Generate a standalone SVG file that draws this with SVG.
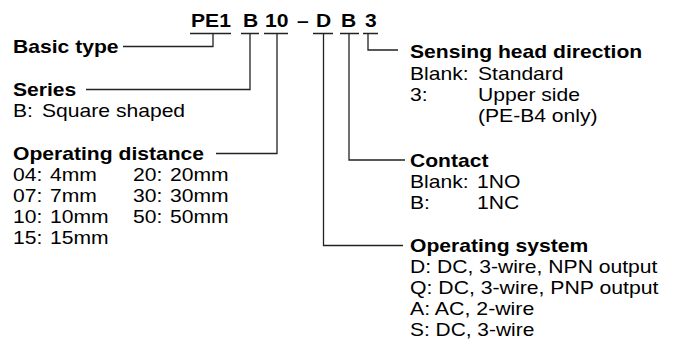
<svg xmlns="http://www.w3.org/2000/svg" width="677" height="343" viewBox="0 0 677 343">
<style>
text{font-family:"Liberation Sans",Arial,Helvetica,sans-serif;font-size:19px;fill:#000}
.b{font-weight:bold}
.ln{fill:none;stroke:#222;stroke-width:1.3}
</style>
<rect width="677" height="343" fill="#fff"/>
<g id="code">
<text class="b" x="191" y="27" textLength="39.9" lengthAdjust="spacingAndGlyphs">PE1</text>
<text class="b" x="243" y="27" textLength="15.2" lengthAdjust="spacingAndGlyphs">B</text>
<text class="b" x="265" y="27" textLength="23.5" lengthAdjust="spacingAndGlyphs">10</text>
<text class="b" x="297" y="27" textLength="11.7" lengthAdjust="spacingAndGlyphs">–</text>
<text class="b" x="316" y="27" textLength="15.2" lengthAdjust="spacingAndGlyphs">D</text>
<text class="b" x="341" y="27" textLength="15.2" lengthAdjust="spacingAndGlyphs">B</text>
<text class="b" x="365" y="27" textLength="11.7" lengthAdjust="spacingAndGlyphs">3</text>
</g>
<g id="basic-type">
<text class="b" x="13" y="53" textLength="105.5" lengthAdjust="spacingAndGlyphs">Basic type</text>
</g>
<g id="series">
<text class="b" x="13" y="96" textLength="63.3" lengthAdjust="spacingAndGlyphs">Series</text>
<text x="13" y="117" textLength="19.9" lengthAdjust="spacingAndGlyphs">B:</text>
<text x="42" y="117" textLength="143.1" lengthAdjust="spacingAndGlyphs">Square shaped</text>
</g>
<g id="operating-distance">
<text class="b" x="13" y="160" textLength="191.1" lengthAdjust="spacingAndGlyphs">Operating distance</text>
<text x="13" y="181" textLength="29.3" lengthAdjust="spacingAndGlyphs">04:</text>
<text x="50" y="181" textLength="46.9" lengthAdjust="spacingAndGlyphs">4mm</text>
<text x="13" y="202" textLength="29.3" lengthAdjust="spacingAndGlyphs">07:</text>
<text x="50" y="202" textLength="46.9" lengthAdjust="spacingAndGlyphs">7mm</text>
<text x="13" y="223" textLength="29.3" lengthAdjust="spacingAndGlyphs">10:</text>
<text x="50" y="223" textLength="58.6" lengthAdjust="spacingAndGlyphs">10mm</text>
<text x="13" y="244" textLength="29.3" lengthAdjust="spacingAndGlyphs">15:</text>
<text x="50" y="244" textLength="58.6" lengthAdjust="spacingAndGlyphs">15mm</text>
<text x="133" y="181" textLength="29.3" lengthAdjust="spacingAndGlyphs">20:</text>
<text x="170" y="181" textLength="58.6" lengthAdjust="spacingAndGlyphs">20mm</text>
<text x="133" y="202" textLength="29.3" lengthAdjust="spacingAndGlyphs">30:</text>
<text x="170" y="202" textLength="58.6" lengthAdjust="spacingAndGlyphs">30mm</text>
<text x="133" y="223" textLength="29.3" lengthAdjust="spacingAndGlyphs">50:</text>
<text x="170" y="223" textLength="58.6" lengthAdjust="spacingAndGlyphs">50mm</text>
</g>
<g id="sensing-head-direction">
<text class="b" x="410" y="58" textLength="232.2" lengthAdjust="spacingAndGlyphs">Sensing head direction</text>
<text x="410" y="79.5" textLength="58.6" lengthAdjust="spacingAndGlyphs">Blank:</text>
<text x="478" y="79.5" textLength="85.6" lengthAdjust="spacingAndGlyphs">Standard</text>
<text x="410" y="100.5" textLength="17.6" lengthAdjust="spacingAndGlyphs">3:</text>
<text x="478" y="100.5" textLength="102" lengthAdjust="spacingAndGlyphs">Upper side</text>
<text x="478" y="121.5" textLength="119.6" lengthAdjust="spacingAndGlyphs">(PE-B4 only)</text>
</g>
<g id="contact">
<text class="b" x="410" y="166.5" textLength="78.5" lengthAdjust="spacingAndGlyphs">Contact</text>
<text x="410" y="187.5" textLength="58.6" lengthAdjust="spacingAndGlyphs">Blank:</text>
<text x="477" y="187.5" textLength="43.4" lengthAdjust="spacingAndGlyphs">1NO</text>
<text x="410" y="208.5" textLength="19.9" lengthAdjust="spacingAndGlyphs">B:</text>
<text x="477" y="208.5" textLength="42.2" lengthAdjust="spacingAndGlyphs">1NC</text>
</g>
<g id="operating-system">
<text class="b" x="410" y="252" textLength="178.2" lengthAdjust="spacingAndGlyphs">Operating system</text>
<text x="410" y="273" textLength="247.4" lengthAdjust="spacingAndGlyphs">D: DC, 3-wire, NPN output</text>
<text x="410" y="294" textLength="248.5" lengthAdjust="spacingAndGlyphs">Q: DC, 3-wire, PNP output</text>
<text x="410" y="315" textLength="124.3" lengthAdjust="spacingAndGlyphs">A: AC, 2-wire</text>
<text x="410" y="336" textLength="124.3" lengthAdjust="spacingAndGlyphs">S: DC, 3-wire</text>
</g>
<g id="connectors">
<path class="ln" d="M190 33.5H231M241 33.5H259M264 33.5H288M313 33.5H333M340 33.5H359M363 33.5H378"/>
<path class="ln" d="M213 33.5V46.5H123"/>
<path class="ln" d="M250 33.5V89.5H86"/>
<path class="ln" d="M277 33.5V153.5H216"/>
<path class="ln" d="M323.5 33.5V245.5H403"/>
<path class="ln" d="M349 33.5V160H405"/>
<path class="ln" d="M368 33.5V50H398"/>
</g>
</svg>
